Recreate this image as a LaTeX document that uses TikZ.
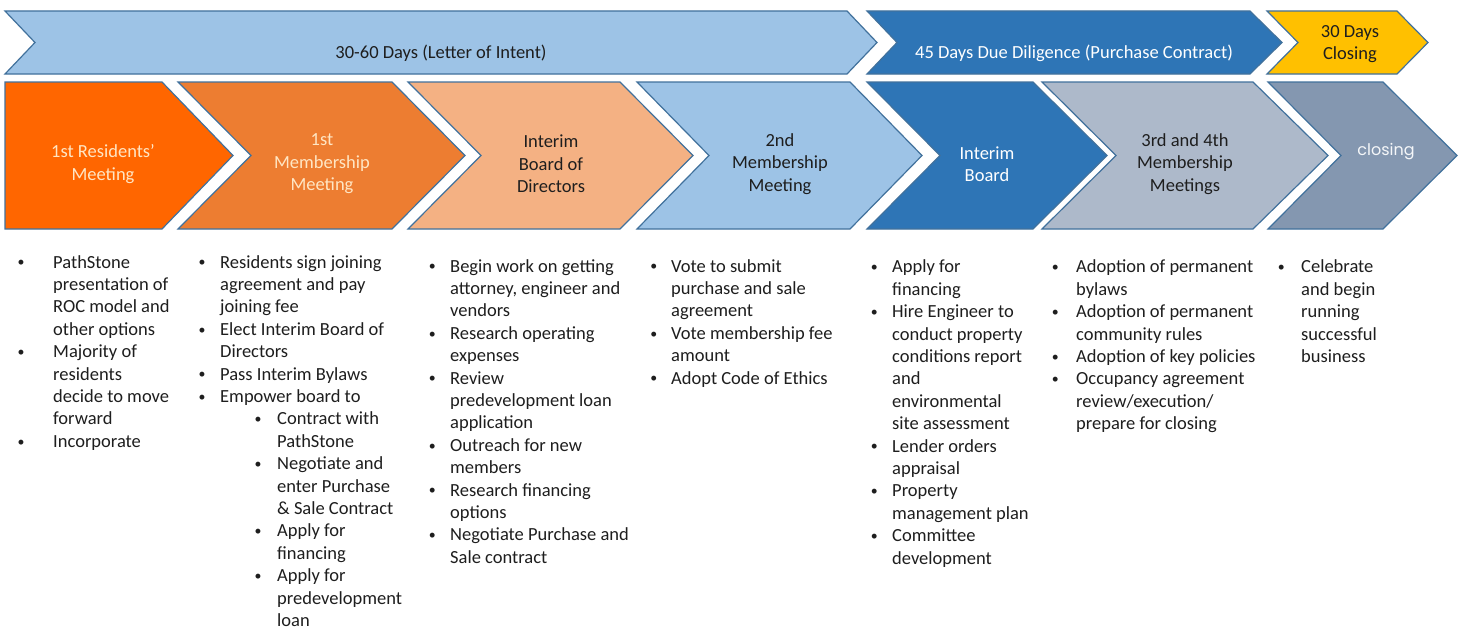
\documentclass[tikz,border=0pt]{standalone}
\usepackage{graphicx}
\usepackage{fontspec}
\setmainfont{Carlito}
\newfontfamily\gothicfont{Poppins}
\usepackage{tikz}

\definecolor{edge}{HTML}{41719C}
\definecolor{sky}{HTML}{9DC3E6}
\definecolor{navy}{HTML}{2E75B6}
\definecolor{gold}{HTML}{FFC000}
\definecolor{flame}{HTML}{FF6600}
\definecolor{rust}{HTML}{ED7D31}
\definecolor{peach}{HTML}{F4B183}
\definecolor{slate}{HTML}{ADB9CA}
\definecolor{steel}{HTML}{8497B0}
\definecolor{cream}{HTML}{FFE6C4}
\definecolor{ink}{HTML}{1E1E1E}

\newcommand{\bodyfont}{\fontsize{18.5pt}{22.4pt}\selectfont}
% bullet centred half of #1 left of the text
\newcommand{\itm}[1]{\llap{\makebox[#1][c]{%
    \raisebox{0.07em}{\scalebox{0.75}{\textbullet}}}}}

\begin{document}
\begin{tikzpicture}[x=1pt,y=-1pt,
    stage/.style={draw=edge,line width=1.2pt,line join=miter},
    stagetext/.style={font=\bodyfont,align=center,inner sep=0pt},
    % top of the first strut = 0.7\baselineskip above its baseline
    todolist/.style={font=\bodyfont,align=left,anchor=north west,
        inner sep=0pt,text=ink},
    ]
    \fill[white] (0,0) rectangle (1463,626);
    \useasboundingbox (0,0) rectangle (1463,626);
    % Time frames
    \draw[stage,fill=sky] (5,11) -- (847,11) -- (877,42.5) -- (847,74)
        -- (5,74) -- (35,42.5) -- cycle;
    \draw[stage,fill=navy] (867,11) -- (1250,11) -- (1282,42.5) -- (1250,74)
        -- (867,74) -- (897,42.5) -- cycle;
    \draw[stage,fill=gold] (1267,11) -- (1397,11) -- (1428,42.5) -- (1397,74)
        -- (1267,74) -- (1298,42.5) -- cycle;
    \node[stagetext,text=ink] (loi) at (441,53) {30-60 Days (Letter of Intent)};
    \node[stagetext,text=white] (diligence) at (1074,53)
        {45 Days Due Diligence (Purchase Contract)};
    \node[stagetext,text=ink] (closingdays) at (1350,44) {30 Days\\Closing};

    % Stages
    \draw[stage,fill=flame] (5,82) -- (162,82) -- (233,155.5) -- (162,229)
        -- (5,229) -- cycle;
    \draw[stage,fill=rust] (178,82) -- (392,82) -- (465,155.5) -- (392,229)
        -- (178,229) -- (251,155.5) -- cycle;
    \draw[stage,fill=peach] (408,82) -- (620,82) -- (693,155.5) -- (620,229)
        -- (408,229) -- (481,155.5) -- cycle;
    \draw[stage,fill=sky] (637,82) -- (850,82) -- (922,155.5) -- (850,229)
        -- (637,229) -- (709,155.5) -- cycle;
    \draw[stage,fill=navy] (867,82) -- (1033,82) -- (1107,155.5) -- (1033,229)
        -- (867,229) -- (940,155.5) -- cycle;
    \draw[stage,fill=slate] (1042,82) -- (1253,82) -- (1328,155.5) -- (1253,229)
        -- (1042,229) -- (1116,155.5) -- cycle;
    \draw[stage,fill=steel] (1268,82) -- (1383,82) -- (1457,155.5) -- (1383,229)
        -- (1268,229) -- (1341,155.5) -- cycle;

    \node[stagetext,text=cream] (residents) at (103,164)
        {1st Residents'\\Meeting};
    \node[stagetext,text=cream] (member1) at (322,164)
        {1st\\Membership\\Meeting};
    \node[stagetext,text=ink] (interimdir) at (551,164)
        {Interim\\Board of\\Directors};
    \node[stagetext,text=ink] (member2) at (780,164)
        {2nd\\Membership\\Meeting};
    \node[stagetext,text=white] (interim) at (987,164) {Interim\\Board};
    \node[stagetext,text=ink] (member34) at (1185,164)
        {3rd and 4th\\Membership\\Meetings};
    \node[stagetext,text=white!92!steel,font=\gothicfont\fontsize{16pt}{20pt}\selectfont]
        (closing) at (1386,152) {closing};

    % Tasks under each stage
    \node[todolist] (tasks1) at (53,252.3) {%
        \strut\itm{64pt}PathStone\\presentation of\\ROC model and\\other options\\
        \itm{64pt}Majority of\\residents\\decide to move\\forward\\
        \itm{64pt}Incorporate};
    \node[todolist] (tasks2) at (220,252.3) {%
        \strut\itm{36pt}Residents sign joining\\agreement and pay\\joining fee\\
        \itm{36pt}Elect Interim Board of\\Directors\\
        \itm{36pt}Pass Interim Bylaws\\
        \itm{36pt}Empower board to\\
        \hspace*{57pt}\itm{38pt}Contract with\\\hspace*{57pt}PathStone\\
        \hspace*{57pt}\itm{38pt}Negotiate and\\\hspace*{57pt}enter Purchase\\
        \hspace*{57pt}\& Sale Contract\\
        \hspace*{57pt}\itm{38pt}Apply for\\\hspace*{57pt}financing\\
        \hspace*{57pt}\itm{38pt}Apply for\\\hspace*{57pt}predevelopment\\
        \hspace*{57pt}loan};
    \node[todolist] (tasks3) at (450,256.3) {%
        \strut\itm{36pt}Begin work on getting\\attorney, engineer and\\vendors\\
        \itm{36pt}Research operating\\expenses\\
        \itm{36pt}Review\\predevelopment loan\\application\\
        \itm{36pt}Outreach for new\\members\\
        \itm{36pt}Research financing\\options\\
        \itm{36pt}Negotiate Purchase and\\Sale contract};
    \node[todolist] (tasks4) at (671,256.3) {%
        \strut\itm{35pt}Vote to submit\\purchase and sale\\agreement\\
        \itm{35pt}Vote membership fee\\amount\\
        \itm{35pt}Adopt Code of Ethics};
    \node[todolist] (tasks5) at (892,257) {%
        \strut\itm{36pt}Apply for\\financing\\
        \itm{36pt}Hire Engineer to\\conduct property\\conditions report\\and\\
        environmental\\site assessment\\
        \itm{36pt}Lender orders\\appraisal\\
        \itm{36pt}Property\\management plan\\
        \itm{36pt}Committee\\development};
    \node[todolist] (tasks6) at (1076,257) {%
        \strut\itm{42pt}Adoption of permanent\\bylaws\\
        \itm{42pt}Adoption of permanent\\community rules\\
        \itm{42pt}Adoption of key policies\\
        \itm{42pt}Occupancy agreement\\review/execution/\\prepare for closing};
    \node[todolist] (tasks7) at (1301,257) {%
        \strut\itm{40pt}Celebrate\\and begin\\running\\successful\\business};
\end{tikzpicture}
\end{document}
